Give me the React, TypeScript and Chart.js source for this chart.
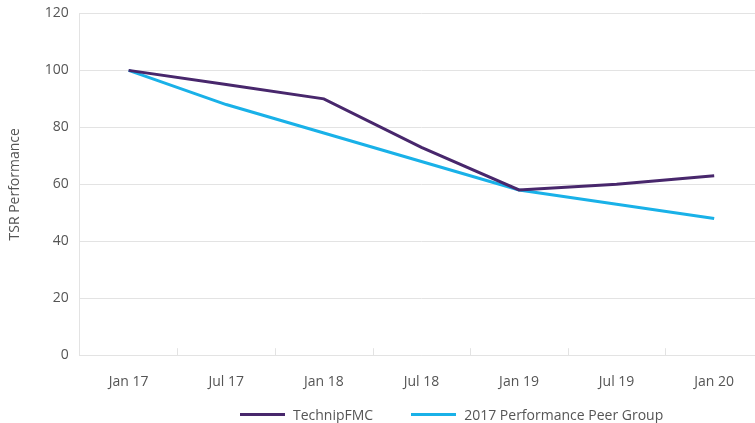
import React, { useEffect, useRef } from "react";
import { Chart, registerables } from "chart.js";

Chart.register(...registerables);

const categories = ["Jan 17", "Jul 17", "Jan 18", "Jul 18", "Jan 19", "Jul 19", "Jan 20"];
const technipFMC = [100, 95, 90, 73, 58, 60, 63];
const peerGroup = [100, 88, 78, 68, 58, 53, 48];
const seriesNames = ["TechnipFMC", "2017 Performance Peer Group"];
const seriesColors = ["#48276c", "#19b1e8"];
const yMin = 0;
const yMax = 120;
const yStep = 20;
const yTitle = "TSR Performance";

const FONT = "'Open Sans', 'DejaVu Sans', sans-serif";
const TEXT = "#555555";
const GRID = "#e3e3e3";

const innerTicks = {
  id: "innerTicks",
  afterDatasetsDraw(chart: any) {
    const x = chart.scales.x;
    const area = chart.chartArea;
    const ctx = chart.ctx;
    ctx.save();
    ctx.strokeStyle = GRID;
    ctx.lineWidth = 1;
    for (let i = 1; i <= categories.length; i++) {
      const px = Math.round((x.getPixelForValue(i - 1) + x.getPixelForValue(i)) / 2) + 0.5;
      ctx.beginPath();
      ctx.moveTo(px, area.bottom);
      ctx.lineTo(px, area.bottom - 7);
      ctx.stroke();
    }
    ctx.restore();
  },
};

export default function App() {
  const ref = useRef<HTMLCanvasElement | null>(null);
  useEffect(() => {
    if (!ref.current) return;
    const chart = new Chart(ref.current, {
      type: "line",
      data: {
        labels: categories,
        datasets: [
          {
            label: seriesNames[0],
            data: technipFMC,
            borderColor: seriesColors[0],
            backgroundColor: seriesColors[0],
            borderWidth: 3,
            pointRadius: 0,
            tension: 0,
          },
          {
            label: seriesNames[1],
            data: peerGroup,
            borderColor: seriesColors[1],
            backgroundColor: seriesColors[1],
            borderWidth: 3,
            pointRadius: 0,
            tension: 0,
          },
        ],
      },
      options: {
        animation: false,
        responsive: false,
        devicePixelRatio: 1,
        layout: { padding: { top: 7, left: 7, right: 0, bottom: 0 } },
        plugins: { legend: { display: false }, tooltip: { enabled: false } },
        scales: {
          x: {
            offset: true,
            grid: { display: true, drawOnChartArea: false, drawTicks: false, color: GRID },
            border: { display: true, color: GRID },
            ticks: { color: TEXT, font: { family: FONT, size: 14 }, padding: 18, maxRotation: 0 },
          },
          y: {
            min: yMin,
            max: yMax,
            ticks: { stepSize: yStep, color: TEXT, font: { family: FONT, size: 14 }, padding: 11 },
            grid: { color: GRID, drawTicks: false },
            border: { display: true, color: GRID },
            title: {
              display: true,
              text: yTitle,
              color: TEXT,
              font: { family: FONT, size: 14 },
              padding: { top: 0, bottom: 10 },
            },
          },
        },
      },
      plugins: [innerTicks],
    });
    return () => chart.destroy();
  }, []);

  const legendItem = (name: string, color: string, gap: number) => (
    <div style={{ display: "flex", alignItems: "center", marginRight: gap }}>
      <div style={{ width: 45, height: 3, background: color, marginRight: 8 }} />
      <span style={{ fontFamily: FONT, fontSize: 14, color: TEXT, whiteSpace: "nowrap" }}>{name}</span>
    </div>
  );

  return (
    <div style={{ position: "fixed", left: 0, top: 0, width: 755, height: 423, overflow: "hidden", background: "#fff" }}>
      <canvas ref={ref} width={763} height={414} style={{ position: "absolute", left: 0, top: -6 }} />
      <div
        style={{
          position: "absolute",
          left: 240,
          top: 404,
          height: 20,
          display: "flex",
          alignItems: "center",
        }}
      >
        {legendItem(seriesNames[0], seriesColors[0], 38)}
        {legendItem(seriesNames[1], seriesColors[1], 0)}
      </div>
    </div>
  );
}
